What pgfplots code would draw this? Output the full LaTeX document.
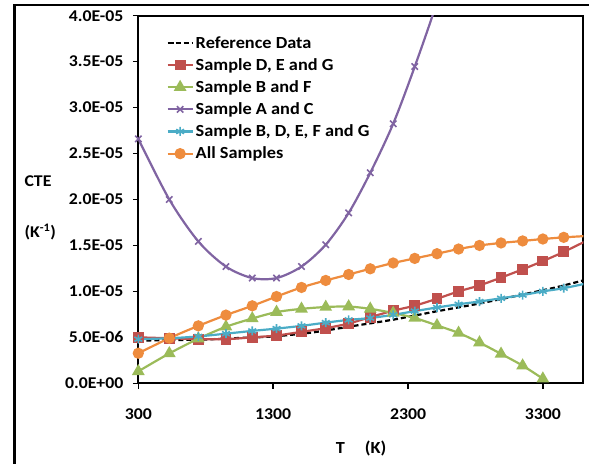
\documentclass[border=0pt]{standalone}
\usepackage{pgfplots}
\usepackage{pgfplotstable}
\pgfplotsset{compat=1.18}
\usepackage{fontspec}
\setmainfont{Carlito}[FakeStretch=1.08]
\definecolor{cred}{RGB}{192,80,77}
\definecolor{cgreen}{RGB}{155,187,89}
\definecolor{cpurple}{RGB}{128,100,162}
\definecolor{cblue}{RGB}{75,172,198}
\definecolor{corange}{RGB}{238,140,62}

\pgfplotstableread{
T y
300 0.465e-5
750 0.475e-5
1000 0.49e-5
1300 0.51e-5
1600 0.555e-5
1900 0.625e-5
2200 0.695e-5
2500 0.78e-5
2800 0.86e-5
3100 0.95e-5
3400 1.045e-5
3600 1.12e-5
}\refdata
\pgfplotstableread{
T y
300 0.50e-5
530 0.49e-5
745 0.48e-5
950 0.48e-5
1145 0.50e-5
1325 0.52e-5
1510 0.56e-5
1690 0.60e-5
1860 0.65e-5
2020 0.72e-5
2190 0.79e-5
2350 0.845e-5
2515 0.92e-5
2675 1.00e-5
2830 1.065e-5
2990 1.15e-5
3150 1.24e-5
3300 1.33e-5
3455 1.43e-5
3650 1.57e-5
}\reddata
\pgfplotstableread{
T y
300 0.13e-5
530 0.325e-5
745 0.485e-5
950 0.615e-5
1145 0.705e-5
1325 0.775e-5
1510 0.81e-5
1690 0.83e-5
1860 0.835e-5
2020 0.81e-5
2190 0.765e-5
2350 0.71e-5
2515 0.63e-5
2675 0.548e-5
2830 0.443e-5
2990 0.32e-5
3150 0.192e-5
3300 0.05e-5
}\greendata
\pgfplotstableread{
T y
300 2.66e-5
530 2.00e-5
745 1.544e-5
950 1.27e-5
1145 1.145e-5
1325 1.145e-5
1510 1.27e-5
1690 1.508e-5
1860 1.854e-5
2020 2.29e-5
2190 2.824e-5
2350 3.446e-5
2515 4.15e-5
2675 4.95e-5
}\purpledata
\pgfplotstableread{
T y
300 0.48e-5
530 0.49e-5
745 0.51e-5
950 0.54e-5
1145 0.57e-5
1325 0.595e-5
1510 0.625e-5
1690 0.66e-5
1860 0.69e-5
2020 0.71e-5
2190 0.745e-5
2350 0.785e-5
2515 0.825e-5
2675 0.86e-5
2830 0.89e-5
2990 0.925e-5
3150 0.96e-5
3300 1.00e-5
3455 1.035e-5
3650 1.095e-5
}\bluedata
\pgfplotstableread{
T y
300 0.327e-5
530 0.491e-5
745 0.625e-5
950 0.742e-5
1145 0.843e-5
1325 0.944e-5
1510 1.043e-5
1690 1.119e-5
1860 1.184e-5
2020 1.246e-5
2190 1.309e-5
2350 1.359e-5
2515 1.41e-5
2675 1.461e-5
2830 1.50e-5
2990 1.527e-5
3150 1.549e-5
3300 1.570e-5
3455 1.588e-5
3650 1.605e-5
}\orangedata

\begin{document}
\begin{tikzpicture}[x=1bp,y=1bp]
\useasboundingbox (0,0) rectangle (589,464);
\draw[line width=2.5bp] (14.5,-5) -- (14.5,459) -- (600,459);
\begin{axis}[
  at={(138.3bp,80.7bp)}, anchor=south west,
  width=445bp, height=367.6bp, scale only axis,
  xmin=300, xmax=3600, ymin=0, ymax=4e-5,
  axis line style={line width=1.8bp},
  xtick={300,1300,2300,3300},
  xticklabels={300,1300,2300,3300},
  ytick={0,5e-6,1e-5,1.5e-5,2e-5,2.5e-5,3e-5,3.5e-5,4e-5},
  yticklabels={0.0E+00,5.0E-06,1.0E-05,1.5E-05,2.0E-05,2.5E-05,3.0E-05,3.5E-05,4.0E-05},
  scaled y ticks=false,
  tick align=outside, tick pos=left,
  major tick length=5.5bp,
  every tick/.style={line width=1.5bp, black},
  ticklabel style={font=\bfseries\fontsize{16.5}{18}\selectfont},
  xticklabel style={yshift=-16bp},
  yticklabel style={xshift=-6bp},
  every axis plot/.append style={line width=2.2bp, smooth, mark options={solid}},
  legend style={at={(0.063,0.95)}, anchor=north west, draw=none, fill=none,
    font=\bfseries\fontsize{17}{19}\selectfont, row sep=4.8bp,
    inner sep=0pt, /tikz/every even column/.append style={column sep=1bp}},
  legend cell align=left,
  legend image code/.code={\draw[mark repeat=2,mark phase=2] plot coordinates {(0bp,0bp)(12.5bp,0bp)(25bp,0bp)};},
]
\addplot[black, dash pattern=on 5bp off 3bp, no marks] table[x=T,y=y]{\refdata};
\addlegendentry{Reference Data}
\addplot[cred, mark=square*, mark size=4.3bp] table[x=T,y=y]{\reddata};
\addlegendentry{Sample D, E and G}
\addplot[cgreen, mark=triangle*, mark size=5.2bp] table[x=T,y=y]{\greendata};
\addlegendentry{Sample B and F}
\addplot[cpurple, mark=x, mark size=4.5bp, mark options={line width=1.6bp}] table[x=T,y=y]{\purpledata};
\addlegendentry{Sample A and C}
\addplot[cblue, mark=asterisk, mark size=4.5bp, mark options={line width=1.6bp}] table[x=T,y=y]{\bluedata};
\addlegendentry{Sample B, D, E, F and G}
\addplot[corange, mark=*, mark size=4.5bp] table[x=T,y=y]{\orangedata};
\addlegendentry{All Samples}
\end{axis}
\node[font=\bfseries\fontsize{16.5}{18}\selectfont, anchor=west] at (21,283) {CTE};
\node[font=\bfseries\fontsize{16.5}{18}\selectfont, anchor=west] at (21,232) {(K\textsuperscript{-1})};
\node[font=\bfseries\fontsize{17}{19}\selectfont] at (361,16) {T\hspace{20bp}(K)};
\end{tikzpicture}
\end{document}
